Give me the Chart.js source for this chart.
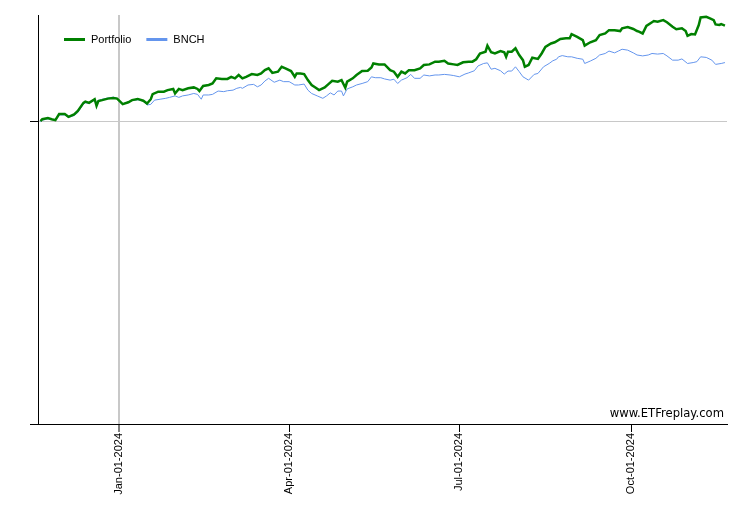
<!DOCTYPE html>
<html>
<head>
<meta charset="utf-8">
<title>Portfolio vs BNCH</title>
<script src="https://cdn.jsdelivr.net/npm/chart.js@4"></script>
<style>
  body { margin: 0; background: #fff; }
</style>
</head>
<body>
<canvas id="growth" width="750" height="530"></canvas>
<script>
// x values are days counted from Jan-01-2024, y values are % return since start
const portfolioDays = [-42,-41,-38,-36,-34,-32,-29,-27,-24,-22,-19,-18,-16,-13,-12,-11,-9,-6,-3,-1,2,5,7,10,13,15,17,18,21,24,26,29,30,32,34,37,40,42,43,45,48,50,52,55,58,60,62,64,66,68,71,74,76,78,80,82,85,87,89,92,94,95,97,99,101,103,105,107,110,112,114,117,119,121,122,125,127,130,133,135,136,139,142,145,147,149,151,153,155,158,161,163,166,169,171,174,176,179,181,184,187,189,191,193,196,197,199,201,204,206,207,208,210,212,214,216,217,219,221,224,226,228,231,233,236,239,241,242,245,248,249,252,255,257,260,262,265,268,269,272,275,277,278,280,282,285,286,288,291,293,296,298,301,303,304,306,308,310,311,314,316,318,319,321,322,324]
const portfolioValues = [0.0,0.6,1.0,0.6,0.3,2.3,2.3,1.4,2.2,3.3,6.0,6.4,6.0,7.2,5.0,6.6,6.9,7.4,7.6,7.4,5.6,6.2,6.9,7.3,6.7,5.8,7.2,8.9,9.7,9.7,10.2,10.6,9.1,10.6,10.2,10.8,11.1,10.6,9.9,11.6,11.9,12.4,14.1,13.9,13.9,14.6,14.1,15.2,14.1,14.6,15.5,15.2,15.7,16.8,17.4,15.9,16.3,17.9,17.4,16.5,14.6,15.7,15.7,15.5,13.5,11.9,11.1,10.2,11.1,12.2,13.3,13.0,13.5,11.0,13.0,14.1,15.2,16.5,16.6,17.7,19.0,18.7,18.7,16.8,16.3,14.6,16.3,15.7,16.8,16.8,17.4,18.5,18.7,19.6,19.6,19.9,19.0,18.7,18.5,19.4,19.6,19.6,20.4,22.3,22.9,24.9,22.7,22.3,23.1,22.7,21.2,22.9,22.9,24.0,21.8,20.1,17.9,18.5,20.9,20.5,22.3,24.5,25.6,26.0,27.1,27.3,27.3,28.7,27.8,26.7,24.9,26.0,26.7,28.4,28.9,30.0,30.0,29.7,30.6,31.0,30.4,29.7,29.5,28.9,31.4,32.6,33.0,32.8,33.3,32.6,31.1,30.3,30.6,29.7,28.1,28.7,28.6,31.7,34.2,34.4,33.9,33.3,31.9,31.7,32.0,31.5]

const benchDays = [-42,-41,-38,-36,-34,-32,-29,-27,-24,-22,-19,-18,-16,-13,-12,-11,-9,-6,-3,-1,2,5,7,10,13,15,17,19,22,25,27,30,32,34,37,40,42,44,45,48,50,53,56,58,61,63,65,66,69,72,74,76,78,80,83,86,88,91,94,96,99,101,103,106,109,111,113,115,117,119,120,122,125,127,130,133,135,137,140,142,145,147,149,151,154,156,158,161,163,166,169,171,174,177,179,182,185,187,190,192,195,197,199,201,204,206,208,210,212,214,216,219,222,224,227,230,232,234,235,237,240,242,245,248,249,252,255,257,260,262,265,267,269,272,275,277,280,283,285,288,291,293,296,299,301,304,307,309,311,314,317,319,322,324]
const benchValues = [-0.2,0.3,0.7,0.5,0.3,2.0,2.0,1.2,1.8,2.8,5.6,6.0,5.9,6.9,6.3,6.8,7.2,7.6,7.9,7.5,5.7,6.3,6.8,7.0,6.6,5.3,5.5,6.9,7.2,7.5,7.8,8.3,7.8,8.3,8.6,9.1,8.8,7.2,8.6,8.6,8.8,9.9,9.7,10.0,10.2,10.8,11.1,10.8,11.9,12.1,11.3,11.9,13.2,14.1,12.8,13.5,13.0,13.0,11.9,11.9,12.2,10.2,9.1,8.3,7.5,8.3,9.3,8.6,9.9,9.9,8.3,10.6,11.3,11.9,12.4,13.0,14.6,14.3,14.3,13.9,13.5,13.8,12.4,13.5,14.3,15.4,14.1,14.1,15.2,14.9,15.2,15.2,15.4,15.2,15.0,14.6,15.5,15.9,16.6,18.2,19.0,19.2,17.1,17.4,16.6,15.5,16.5,16.5,17.9,16.3,14.6,13.5,15.4,15.7,17.9,19.0,19.9,20.4,21.2,21.6,21.2,21.2,20.7,20.4,19.0,19.8,20.7,21.8,22.3,23.1,22.5,23.1,23.7,23.4,22.5,21.8,21.5,21.8,22.3,22.1,22.3,21.5,20.1,20.1,20.5,19.0,19.3,19.6,21.2,21.0,20.1,18.7,19.0,19.3]

const tickDays = [0, 91, 182, 274]  // Jan-01, Apr-01, Jul-01, Oct-01 2024
const yTicks = [-100, 0]
const MONTHS = ['Jan','Feb','Mar','Apr','May','Jun','Jul','Aug','Sep','Oct','Nov','Dec']

function dayLabel(d) {
    const dt = new Date(Date.UTC(2024, 0, 1 + d))
    return MONTHS[dt.getUTCMonth()] + '-' + String(dt.getUTCDate()).padStart(2, '0') + '-' + dt.getUTCFullYear()
}

const toPoints = (xs, ys) => xs.map((x, i) => ({ x: x, y: ys[i] }))
const GRAY = '#c8c8c8'
const NONE = 'rgba(0,0,0,0)'

// legend drawn inside the plot plus the site watermark
const overlay = {
    id: 'overlay',
    afterDraw(chart) {
        const ctx = chart.ctx
        ctx.save()
        ctx.font = '11px "Liberation Sans", Arial, sans-serif'
        ctx.textBaseline = 'middle'
        let x = 64
        chart.data.datasets.forEach(ds => {
            ctx.strokeStyle = ds.borderColor
            ctx.lineWidth = 3
            ctx.beginPath()
            ctx.moveTo(x, 39.5)
            ctx.lineTo(x + 21, 39.5)
            ctx.stroke()
            ctx.fillStyle = '#000'
            ctx.fillText(ds.label, x + 27, 40)
            x += 27 + ctx.measureText(ds.label).width + 15
        })
        ctx.font = '11.6px "DejaVu Sans", Verdana, sans-serif'
        ctx.textAlign = 'right'
        ctx.textBaseline = 'alphabetic'
        ctx.fillText('www.ETFreplay.com', 724, 417)
        ctx.restore()
    }
}

new Chart(document.getElementById('growth'), {
    type: 'line',
    data: {
        datasets: [
            {
                label: 'Portfolio',
                data: toPoints(portfolioDays, portfolioValues),
                borderColor: '#008000',
                borderWidth: 2.5,
                pointRadius: 0,
                tension: 0
            },
            {
                label: 'BNCH',
                data: toPoints(benchDays, benchValues),
                borderColor: '#6495ed',
                borderWidth: 1,
                pointRadius: 0,
                tension: 0
            }
        ]
    },
    options: {
        responsive: false,
        animation: false,
        events: [],
        layout: { padding: { top: 15, right: 23, left: 0, bottom: 0 } },
        plugins: {
            legend: { display: false },
            tooltip: { enabled: false }
        },
        scales: {
            x: {
                type: 'linear',
                min: -43.3,
                max: 325.1,
                afterBuildTicks: s => { s.ticks = tickDays.map(v => ({ value: v })) },
                afterFit: s => { s.height = 106 },
                ticks: {
                    autoSkip: false,
                    minRotation: 90,
                    maxRotation: 90,
                    padding: 1,
                    color: '#000',
                    font: { family: '"Liberation Sans", Arial, sans-serif', size: 11 },
                    callback: v => dayLabel(v)
                },
                grid: {
                    color: c => (c.tick && c.tick.value === 0) ? GRAY : NONE,
                    lineWidth: c => (c.tick && c.tick.value === 0) ? 2 : 1,
                    tickColor: '#000',
                    tickWidth: 1,
                    tickLength: 8
                },
                border: { color: '#000', width: 1 }
            },
            y: {
                type: 'linear',
                min: -100,
                max: 35,
                afterBuildTicks: s => { s.ticks = yTicks.map(v => ({ value: v })) },
                afterFit: s => { s.width = 38 },
                ticks: { display: false },
                grid: {
                    color: c => (c.tick && c.tick.value === 0) ? GRAY : NONE,
                    tickColor: '#000',
                    tickWidth: 1,
                    tickLength: 8
                },
                border: { color: '#000', width: 1 }
            }
        }
    },
    plugins: [overlay]
});
</script>
</body>
</html>
